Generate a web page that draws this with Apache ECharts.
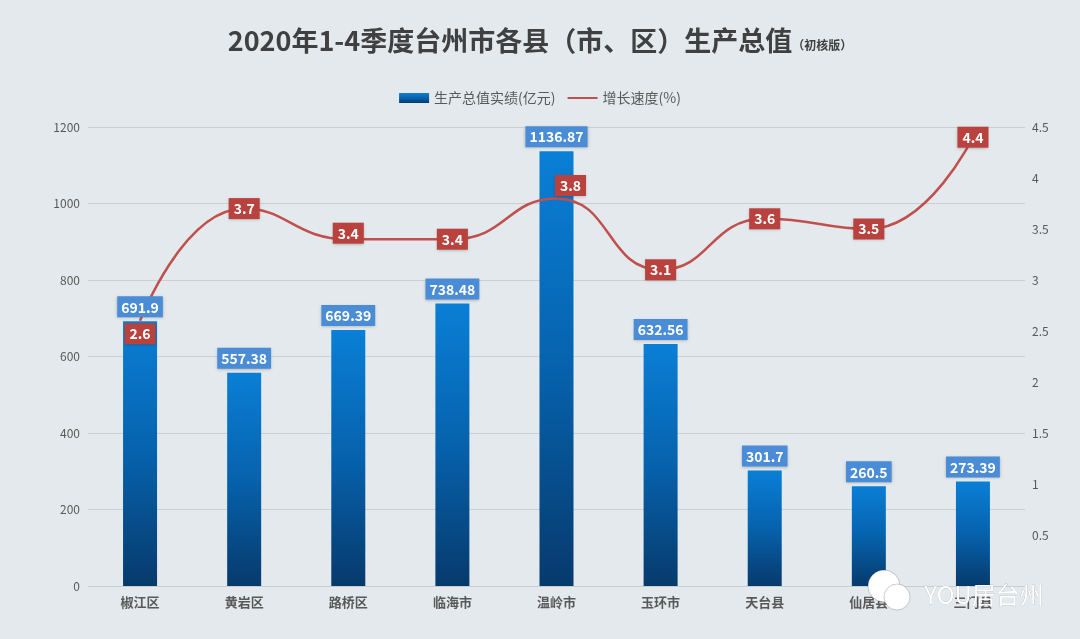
<!DOCTYPE html>
<html>
<head>
<meta charset="utf-8">
<script src="https://cdn.jsdelivr.net/npm/echarts@6/dist/echarts.min.js"></script>
<style>
html,body{margin:0;padding:0;background:#e3e9ec;}
#c{width:1080px;height:639px;}
</style>
</head>
<body>
<div id="c"></div>
<script>
const categories = ['椒江区','黄岩区','路桥区','临海市','温岭市','玉环市','天台县','仙居县','三门县'];
const gdpValues = [691.9, 557.38, 669.39, 738.48, 1136.87, 632.56, 301.7, 260.5, 273.39];
const growthValues = [2.6, 3.7, 3.4, 3.4, 3.8, 3.1, 3.6, 3.5, 4.4];
const gdpLabels = ['691.9','557.38','669.39','738.48','1136.87','632.56','301.7','260.5','273.39'];
const growthLabels = ['2.6','3.7','3.4','3.4','3.8','3.1','3.6','3.5','4.4'];

const FONT = '"Noto Sans CJK SC","Noto Sans",sans-serif';
const chart = echarts.init(document.getElementById('c'));
const barGrad = new echarts.graphic.LinearGradient(0,0,0,1,[
  {offset:0,color:'#0a7fd6'},
  {offset:0.5,color:'#0662ad'},
  {offset:1,color:'#073a6c'}
]);
// label offsets (pixel style tweaks) per point
const lineLabelOffsets = [[0,13],[0,0],[0,-6],[0,0],[14,-13],[0,0],[0,0],[0,0],[0,0]];
const lineData = growthValues.map((v,i)=>({value:v,label:{offset:lineLabelOffsets[i]}}));

chart.setOption({
  backgroundColor:'#e3e9ec',
  textStyle:{fontFamily:FONT},
  title:{
    text:'{m|2020年1-4季度台州市各县（市、区）生产总值}{s|（初核版）}',
    left:'center', top:22,
    textStyle:{
      rich:{
        m:{fontSize:27,fontWeight:'bold',color:'#404040',fontFamily:FONT},
        s:{fontSize:12,fontWeight:'bold',color:'#404040',fontFamily:FONT,padding:[10,0,0,0]}
      }
    }
  },
  legend:{
    top:86, left:'center', itemGap:12,
    itemWidth:30, itemHeight:10,
    textStyle:{color:'#595959',fontSize:14,fontFamily:FONT},
    data:[
      {name:'生产总值实绩(亿元)', icon:'rect'},
      {name:'增长速度(%)', icon:'path://M0,4 L30,4 L30,6 L0,6 Z', itemStyle:{color:'#c0504d'}}
    ]
  },
  grid:{left:88,right:55,top:127,bottom:53},
  xAxis:{
    type:'category', data:categories,
    axisLine:{lineStyle:{color:'#c8cdd0'}},
    axisTick:{show:false},
    axisLabel:{color:'#595959',fontSize:13,fontWeight:'bold',margin:10,fontFamily:FONT}
  },
  yAxis:[
    {type:'value',min:0,max:1200,interval:200,
     axisLine:{show:false},axisTick:{show:false},
     axisLabel:{color:'#595959',fontSize:12,margin:8,formatter:v=>String(v)},
     splitLine:{lineStyle:{color:'#c9cfd2'}}},
    {type:'value',min:0,max:4.5,interval:0.5,
     axisLine:{show:false},axisTick:{show:false},
     axisLabel:{color:'#595959',fontSize:12,margin:7,formatter:v=>v===0?'':String(v)},
     splitLine:{show:false}}
  ],
  series:[
    {name:'生产总值实绩(亿元)',type:'bar',data:gdpValues,barWidth:34,z:2,
     itemStyle:{color:barGrad}},
    {name:'增长速度(%)',type:'line',yAxisIndex:1,data:lineData,smooth:0.5,
     symbol:'circle',symbolSize:1,showSymbol:true,
     lineStyle:{color:'#c0504d',width:2.5},
     itemStyle:{color:'#c0504d'},
     z:5,
     label:{show:true,position:'inside',
       formatter:p=>growthLabels[p.dataIndex],
       color:'#fff',fontSize:14,fontWeight:'bold',fontFamily:FONT,
       backgroundColor:'#b9423f',padding:[4,5,3,5],
       shadowColor:'rgba(0,0,0,0.25)',shadowBlur:3,shadowOffsetY:1}},
    {name:'labels',type:'bar',data:gdpValues,barWidth:34,barGap:'-100%',z:10,
     silent:true,
     itemStyle:{color:'rgba(0,0,0,0)'},
     label:{show:true,position:'top',distance:4,
       formatter:p=>gdpLabels[p.dataIndex],
       color:'#fff',fontSize:14,fontWeight:'bold',fontFamily:FONT,
       backgroundColor:'#4a8dd6',padding:[4,4,3,4],
       shadowColor:'rgba(0,0,0,0.25)',shadowBlur:3,shadowOffsetY:1}}
  ],
  graphic:[
    {type:'text',right:36,bottom:32,z:100,
     style:{text:'YOU居台州',fill:'#ffffff',fontSize:24,fontFamily:FONT,
       stroke:'rgba(0,0,0,0.25)',lineWidth:0.5}},
    {type:'circle',shape:{cx:884,cy:586,r:16},z:99,style:{fill:'#ffffff',stroke:'rgba(0,0,0,0.2)'}},
    {type:'circle',shape:{cx:897,cy:597,r:13},z:99,style:{fill:'#ffffff',stroke:'rgba(0,0,0,0.2)'}}
  ]
});
</script>
</body>
</html>
